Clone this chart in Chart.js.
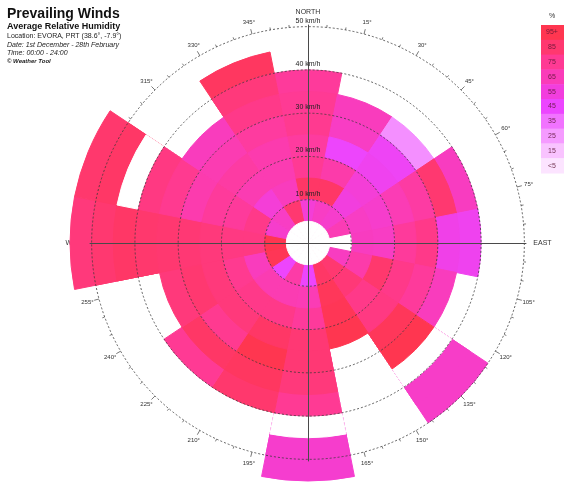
<!DOCTYPE html>
<html>
<head>
<meta charset="utf-8">
<script src="https://cdn.jsdelivr.net/npm/chart.js@4/dist/chart.umd.min.js"></script>
<style>
  html, body { margin: 0; padding: 0; background: #ffffff; }
  #wrap { position: relative; width: 564px; height: 483px; }
</style>
</head>
<body>
<div id="wrap"><canvas id="rose" width="564" height="483"></canvas></div>
<script>
// Wind direction sectors (22.5° each, centred on the compass points)
const directions = ['N', 'NNE', 'NE', 'ENE', 'E', 'ESE', 'SE', 'SSE',
                    'S', 'SSW', 'SW', 'WSW', 'W', 'WNW', 'NW', 'NNW'];

// Outer edge of each speed band, km/h (first band is the calm hole)
const speedBandTops = [5, 10, 15, 20, 25, 30, 35, 40, 45, 50, 55];

// Average relative humidity (%) per direction for each speed band; null = no wind recorded
const rh00_05 = [null, null, null, null, null, null, null, null, null, null, null, null, null, null, null, null];
const rh05_10 = [57, 62, 60, 66, null, 63, 85, 88, 46, 70, 46, 93, 97, 60, 62, 85];
const rh10_15 = [88, 88, 55, 62, 63, 69, 83, 92, 66, 67, 67, 64, 80, 78, 57, 64];
const rh15_20 = [75, 69, 57, 60, 62, 86, 78, 93, 73, 78, 78, 76, 80, 73, 67, 67];
const rh20_25 = [72, 46, 50, 66, 73, 78, 80, 96, 84, 88, 82, 82, 82, 73, 71, 68];
const rh25_30 = [76, 62, 48, 71, 78, 73, 92, null, 84, 97, 76, 85, 84, 68, 67, 72];
const rh30_35 = [75, 64, 28, 85, 52, 64, 95, null, 82, 90, 88, 82, 85, 76, 64, 78];
const rh35_40 = [73, null, null, 63, 50, null, null, null, 75, 86, 75, null, 86, 80, null, 82];
const rh40_45 = [null, null, null, null, null, null, 61, null, null, null, null, null, 88, null, null, 90];
const rh45_50 = [null, null, null, null, null, null, 61, null, 60, null, null, null, 85, 88, null, null];
const rh50_55 = [null, null, null, null, null, null, null, null, 59, null, null, null, 82, 86, null, null];
const humidityBands = [rh00_05, rh05_10, rh10_15, rh15_20, rh20_25, rh25_30,
                       rh30_35, rh35_40, rh40_45, rh45_50, rh50_55];

// Radial rings labelled in km/h
const ringValues = [10, 20, 30, 40, 50];
const ringMax = 50;
const axisMax = 55;

// Compass bearings labelled around the outer ring
const degreeLabels = [15, 30, 45, 60, 75, 105, 120, 135, 150, 165,
                      195, 210, 225, 240, 255, 285, 300, 315, 330, 345];

// Colour key
const legendLabels = ['95+', '85', '75', '65', '55', '45', '35', '25', '15', '<5'];
const legendLevels = [95, 85, 75, 65, 55, 45, 35, 25, 15, 5];
const legendColors = [
  [255, 54, 80], [255, 56, 112], [255, 58, 148], [250, 60, 185], [242, 62, 222],
  [236, 70, 255], [241, 115, 255], [245, 155, 255], [249, 195, 255], [252, 228, 255]
];

function rgb(c) { return 'rgb(' + c[0] + ',' + c[1] + ',' + c[2] + ')'; }

function humidityColor(h) {
  const last = legendLevels.length - 1;
  if (h >= legendLevels[0]) return rgb(legendColors[0]);
  if (h <= legendLevels[last]) return rgb(legendColors[last]);
  for (let i = 0; i < last; i++) {
    const hi = legendLevels[i], lo = legendLevels[i + 1];
    if (h <= hi && h >= lo) {
      const t = (hi - h) / (hi - lo);
      const a = legendColors[i], b = legendColors[i + 1];
      return rgb([0, 1, 2].map(k => Math.round(a[k] + (b[k] - a[k]) * t)));
    }
  }
  return rgb(legendColors[last]);
}

// Each band is a polar-area layer reaching out to the band's top speed;
// inner layers sit on top, so a cell shows only between its band edges.
function cellColor(band, dir) {
  const h = humidityBands[band][dir];
  if (h !== null) return humidityColor(h);
  for (let j = band + 1; j < humidityBands.length; j++) {
    if (humidityBands[j][dir] !== null) return '#ffffff';
  }
  return band === 0 ? '#ffffff' : 'rgba(255,255,255,0)';
}

const datasets = speedBandTops.map((top, band) => {
  const colors = directions.map((d, i) => cellColor(band, i));
  return {
    label: (band === 0 ? 0 : speedBandTops[band - 1]) + '-' + top + ' km/h',
    data: directions.map(() => top),
    backgroundColor: colors,
    borderColor: colors,
    borderWidth: 1
  };
});

const FONT = '"Liberation Sans", Arial, sans-serif';

function bearingPoint(scale, deg, dist) {
  const t = deg * Math.PI / 180;
  return { x: scale.xCenter + Math.sin(t) * dist, y: scale.yCenter - Math.cos(t) * dist };
}

const roseDecor = {
  id: 'roseDecor',
  beforeDatasetsDraw(chart) {
    const s = chart.scales.r;
    const ctx = chart.ctx;
    const R = s.getDistanceFromCenterForValue(ringMax);
    ctx.save();
    // bearing ticks every 5°
    ctx.strokeStyle = '#555';
    ctx.lineWidth = 0.8;
    for (let a = 5; a < 360; a += 5) {
      if (a % 90 === 0) continue;
      const len = a % 15 === 0 ? 5 : 2.5;
      const p0 = bearingPoint(s, a, R);
      const p1 = bearingPoint(s, a, R + len);
      ctx.beginPath(); ctx.moveTo(p0.x, p0.y); ctx.lineTo(p1.x, p1.y); ctx.stroke();
    }
    ctx.fillStyle = '#333';
    ctx.font = '6px ' + FONT;
    ctx.textAlign = 'center';
    ctx.textBaseline = 'middle';
    degreeLabels.forEach(a => {
      const p = bearingPoint(s, a, R + 12);
      ctx.fillText(a + '°', p.x, p.y);
    });
    // compass names
    ctx.font = '7px ' + FONT;
    ctx.fillText('NORTH', s.xCenter, s.yCenter - R - 15);
    ctx.textAlign = 'left';
    ctx.fillText('EAST', s.xCenter + R + 9, s.yCenter);
    ctx.textAlign = 'right';
    ctx.fillText('WEST', s.xCenter - R - 6, s.yCenter);
    ctx.restore();
  },
  afterDraw(chart) {
    const s = chart.scales.r;
    const ctx = chart.ctx;
    const R = s.getDistanceFromCenterForValue(ringMax);
    ctx.save();
    // cross axes
    ctx.strokeStyle = '#4a4a4a';
    ctx.lineWidth = 1;
    ctx.beginPath();
    ctx.moveTo(s.xCenter - R - 2, s.yCenter + 0.5); ctx.lineTo(s.xCenter + R + 2, s.yCenter + 0.5);
    ctx.moveTo(s.xCenter + 0.5, s.yCenter - R - 2); ctx.lineTo(s.xCenter + 0.5, s.yCenter + R + 2);
    ctx.stroke();
    // ring labels
    ctx.fillStyle = '#222';
    ctx.font = '7px ' + FONT;
    ctx.textAlign = 'center';
    ctx.textBaseline = 'middle';
    ringValues.forEach(v => {
      const d = s.getDistanceFromCenterForValue(v);
      ctx.fillText(v + ' km/h', s.xCenter, s.yCenter - d - 6);
    });

    // heading block
    ctx.textAlign = 'left';
    ctx.textBaseline = 'alphabetic';
    ctx.fillStyle = '#111';
    ctx.font = 'bold 14px ' + FONT;
    ctx.fillText('Prevailing Winds', 7, 18);
    ctx.font = 'bold 9px ' + FONT;
    ctx.fillText('Average Relative Humidity', 7, 29);
    ctx.fillStyle = '#222';
    ctx.font = '7px ' + FONT;
    ctx.fillText('Location: EVORA, PRT (38.6°, -7.9°)', 7, 38);
    ctx.font = 'italic 7px ' + FONT;
    ctx.fillText('Date: 1st December - 28th February', 7, 46.5);
    ctx.fillText('Time: 00:00 - 24:00', 7, 54.5);
    ctx.font = 'italic bold 6px ' + FONT;
    ctx.fillText('© Weather Tool', 7, 62.5);

    // colour key
    const kx = 541, ky = 25, kh = 14.8, kw = 30;
    ctx.font = '7px ' + FONT;
    ctx.textAlign = 'center';
    ctx.textBaseline = 'middle';
    ctx.fillStyle = '#333';
    ctx.fillText('%', kx + 11, 16);
    legendLabels.forEach((lab, i) => {
      ctx.fillStyle = rgb(legendColors[i]);
      ctx.fillRect(kx, ky + i * kh, kw, kh + 0.5);
      ctx.fillStyle = 'rgba(90,20,50,0.85)';
      ctx.fillText(lab, kx + 11, ky + i * kh + kh / 2);
    });
    ctx.restore();
  }
};

new Chart(document.getElementById('rose'), {
  type: 'polarArea',
  data: { labels: directions, datasets: datasets },
  options: {
    responsive: false,
    animation: false,
    devicePixelRatio: 1,
    layout: { padding: { left: 70, right: 18, top: 5, bottom: 2 } },
    plugins: { legend: { display: false }, tooltip: { enabled: false } },
    events: [],
    scales: {
      r: {
        min: 0,
        max: axisMax,
        startAngle: -11.25,
        ticks: { display: false, stepSize: 10, includeBounds: false },
        grid: { circular: true, color: '#3a3a3a', lineWidth: 0.8, z: 1 },
        border: { dash: [2, 2] },
        angleLines: { display: false },
        pointLabels: { display: false }
      }
    }
  },
  plugins: [roseDecor]
});
</script>
</body>
</html>
